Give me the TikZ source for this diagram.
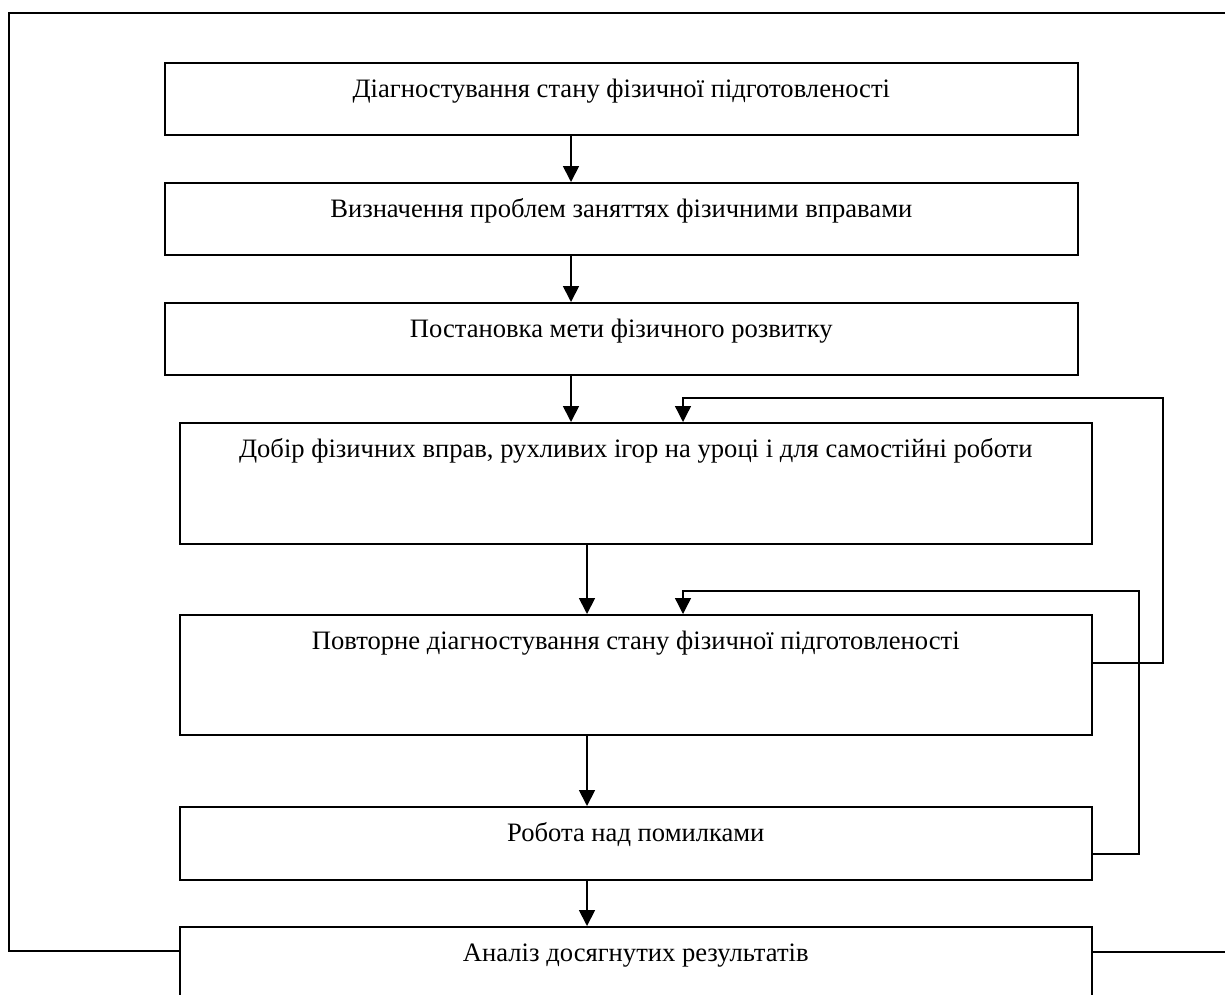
\documentclass[tikz,border=0pt]{standalone}
\usepackage{fontspec}
\setmainfont{Liberation Serif}
\usetikzlibrary{arrows.meta}
\begin{document}
\begin{tikzpicture}[x=1pt,y=-1pt,
  boxnode/.style={draw,line width=1.6pt,rectangle,anchor=north west,inner sep=0pt},
  boxtext/.style={label={[txt,anchor=base,yshift=-35pt]north:#1}},
  arr/.style={line width=1.8pt,-{Triangle[length=16pt,width=16pt]}},
  fbarr/.style={line width=1.3pt,-{Triangle[length=16pt,width=16pt]}},
  frame/.style={line width=1.8pt},
  txt/.style={font=\fontsize{26.6}{30}\selectfont}
]
\useasboundingbox (0,0) rectangle (1225,994);
\clip (0,0) rectangle (1225,994);
\node[boxnode,minimum width=913pt,minimum height=72pt,boxtext={Діагностування стану фізичної підготовленості}] (b1) at (164,62) {};
\node[boxnode,minimum width=913pt,minimum height=72pt,boxtext={Визначення проблем заняттях фізичними вправами}] (b2) at (164,182) {};
\node[boxnode,minimum width=913pt,minimum height=72pt,boxtext={Постановка мети фізичного розвитку}] (b3) at (164,302) {};
\node[boxnode,minimum width=912pt,minimum height=121pt,boxtext={Добір фізичних вправ, рухливих ігор на уроці і для самостійні роботи}] (b4) at (179,422) {};
\node[boxnode,minimum width=912pt,minimum height=120pt,boxtext={Повторне діагностування стану фізичної підготовленості}] (b5) at (179,614) {};
\node[boxnode,minimum width=912pt,minimum height=73pt,boxtext={Робота над помилками}] (b6) at (179,806) {};
\node[boxnode,minimum width=912pt,minimum height=100pt,boxtext={Аналіз досягнутих результатів}] (b7) at (179,926) {};
\coordinate (xa) at (571,0);
\coordinate (xb) at (587,0);
\coordinate (xc) at (683,0);
\coordinate (l1) at (1163,398);
\coordinate (l2) at (1139,591);
\coordinate (y1) at (0,663);
\coordinate (y2) at (0,854);
\coordinate (fl) at (9,13);
\coordinate (fr) at (1240,13);
\coordinate (fb1) at (9,951);
\coordinate (fb2) at (1240,952);
% main arrows
\draw[arr] (b1.south -| xa) -- (b2.north -| xa);
\draw[arr] (b2.south -| xa) -- (b3.north -| xa);
\draw[arr] (b3.south -| xa) -- (b4.north -| xa);
\draw[arr] (b4.south -| xb) -- (b5.north -| xb);
\draw[arr] (b5.south -| xb) -- (b6.north -| xb);
\draw[arr] (b6.south -| xb) -- (b7.north -| xb);
% feedback loops
\draw[fbarr] (b5.east |- y1) -| (l1) -| (b4.north -| xc);
\draw[fbarr] (b6.east |- y2) -| (l2) -| (b5.north -| xc);
% outer frame
\draw[frame] (fr) -- (fl) -- (fb1) -- (b7.west |- fb1);
\draw[frame] (b7.east |- fb2) -- (fb2);
\end{tikzpicture}
\end{document}
